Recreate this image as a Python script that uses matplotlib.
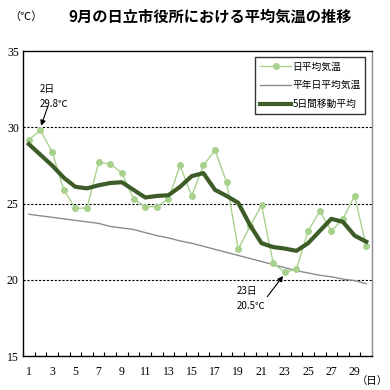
import numpy as np
import matplotlib.pyplot as plt

plt.rcParams['font.family'] = ['Noto Sans CJK JP', 'DejaVu Sans']

days = list(range(1, 31))
daily_mean = [29.2, 29.8, 28.4, 25.9, 24.7, 24.7, 27.7, 27.6, 27.0, 25.3,
              24.8, 24.8, 25.3, 27.5, 25.5, 27.5, 28.5, 26.4, 22.0, 23.5,
              24.9, 21.1, 20.5, 20.7, 23.2, 24.5, 23.2, 24.0, 25.5, 22.2]
normal_mean = [24.3, 24.2, 24.1, 24.0, 23.9, 23.8, 23.7, 23.5, 23.4, 23.3,
               23.1, 22.9, 22.75, 22.55, 22.4, 22.2, 22.0, 21.8, 21.6, 21.4,
               21.2, 21.0, 20.8, 20.6, 20.45, 20.3, 20.2, 20.05, 19.95, 19.75]
moving_avg = [28.9, 28.2, 27.5, 26.7, 26.1, 26.0, 26.2, 26.35, 26.4, 25.9,
              25.4, 25.5, 25.55, 26.1, 26.8, 27.0, 25.9, 25.5, 25.05, 23.6,
              22.4, 22.15, 22.05, 21.9, 22.4, 23.2, 24.0, 23.8, 22.9, 22.5]
labels = ["日平均気温", "平年日平均気温", "5日間移動平均"]
xtick_days = list(range(1, 31, 2))
yticks = [15, 20, 25, 30, 35]

fig = plt.figure(figsize=(3.9, 3.9), dpi=100)
ax = fig.add_axes([0.059, 0.087, 0.895, 0.782])

ax.plot(days, daily_mean, color='#a9d18e', lw=1.0, marker='o', ms=4,
        label=labels[0], zorder=3)
ax.plot(days, normal_mean, color='#8c8c8c', lw=1.0, label=labels[1], zorder=2)
ax.plot(days, moving_avg, color='#3d5c27', lw=3.0, label=labels[2], zorder=4)

for v in [20, 25, 30]:
    ax.axhline(v, color='black', lw=0.8, ls=(0, (2, 1.5)), zorder=1)

ax.set_xlim(0.5, 30.5)
ax.set_ylim(15, 35)
ax.set_xticks(xtick_days)
ax.set_xticklabels([str(d) for d in xtick_days], family='Liberation Serif', fontsize=8.5)
ax.set_xticks(np.arange(0.5, 31, 1), minor=True)
ax.tick_params(axis='x', which='major', length=0, pad=7)
ax.tick_params(axis='x', which='minor', direction='in', length=3, width=0.8)
ax.set_yticks(yticks)
ax.set_yticklabels([str(v) for v in yticks], family='Liberation Serif', fontsize=8.5)
ax.tick_params(axis='y', length=0, pad=3)

ax.spines['left'].set_color('black')
ax.spines['bottom'].set_color('black')
ax.spines['top'].set_color('black')
ax.spines['right'].set_color('#8c8c8c')
for s in ax.spines.values():
    s.set_linewidth(1.0)

leg = ax.legend(loc='upper right', bbox_to_anchor=(0.995, 0.998), fontsize=7,
                frameon=True, fancybox=False, edgecolor='black',
                handlelength=3.2, handletextpad=0.1, borderpad=0.5,
                labelspacing=0.9)
leg.get_frame().set_linewidth(1.0)

arrow = dict(arrowstyle='-|>', color='black', lw=0.8, mutation_scale=8,
             shrinkA=0, shrinkB=0)
ax.text(1.9, 32.0, "2日\n29.8℃", fontsize=7, ha='left', va='center', linespacing=1.6)
ax.annotate("", xy=(2.05, 30.1), xytext=(2.65, 31.4), arrowprops=arrow)
ax.text(18.9, 18.8, "23日\n20.5℃", fontsize=7, ha='left', va='center', linespacing=1.6)
ax.annotate("", xy=(22.85, 20.25), xytext=(21.5, 18.9), arrowprops=arrow)

fig.text(0.025, 0.958, "（℃）", fontsize=8, ha='left', va='center')
fig.text(0.54, 0.958, "9月の日立市役所における平均気温の推移", fontsize=11,
         fontweight='bold', ha='center', va='center')
fig.text(0.995, 0.022, "（日）", fontsize=7.5, ha='right', va='center')

fig.savefig('out.png', dpi=100)
